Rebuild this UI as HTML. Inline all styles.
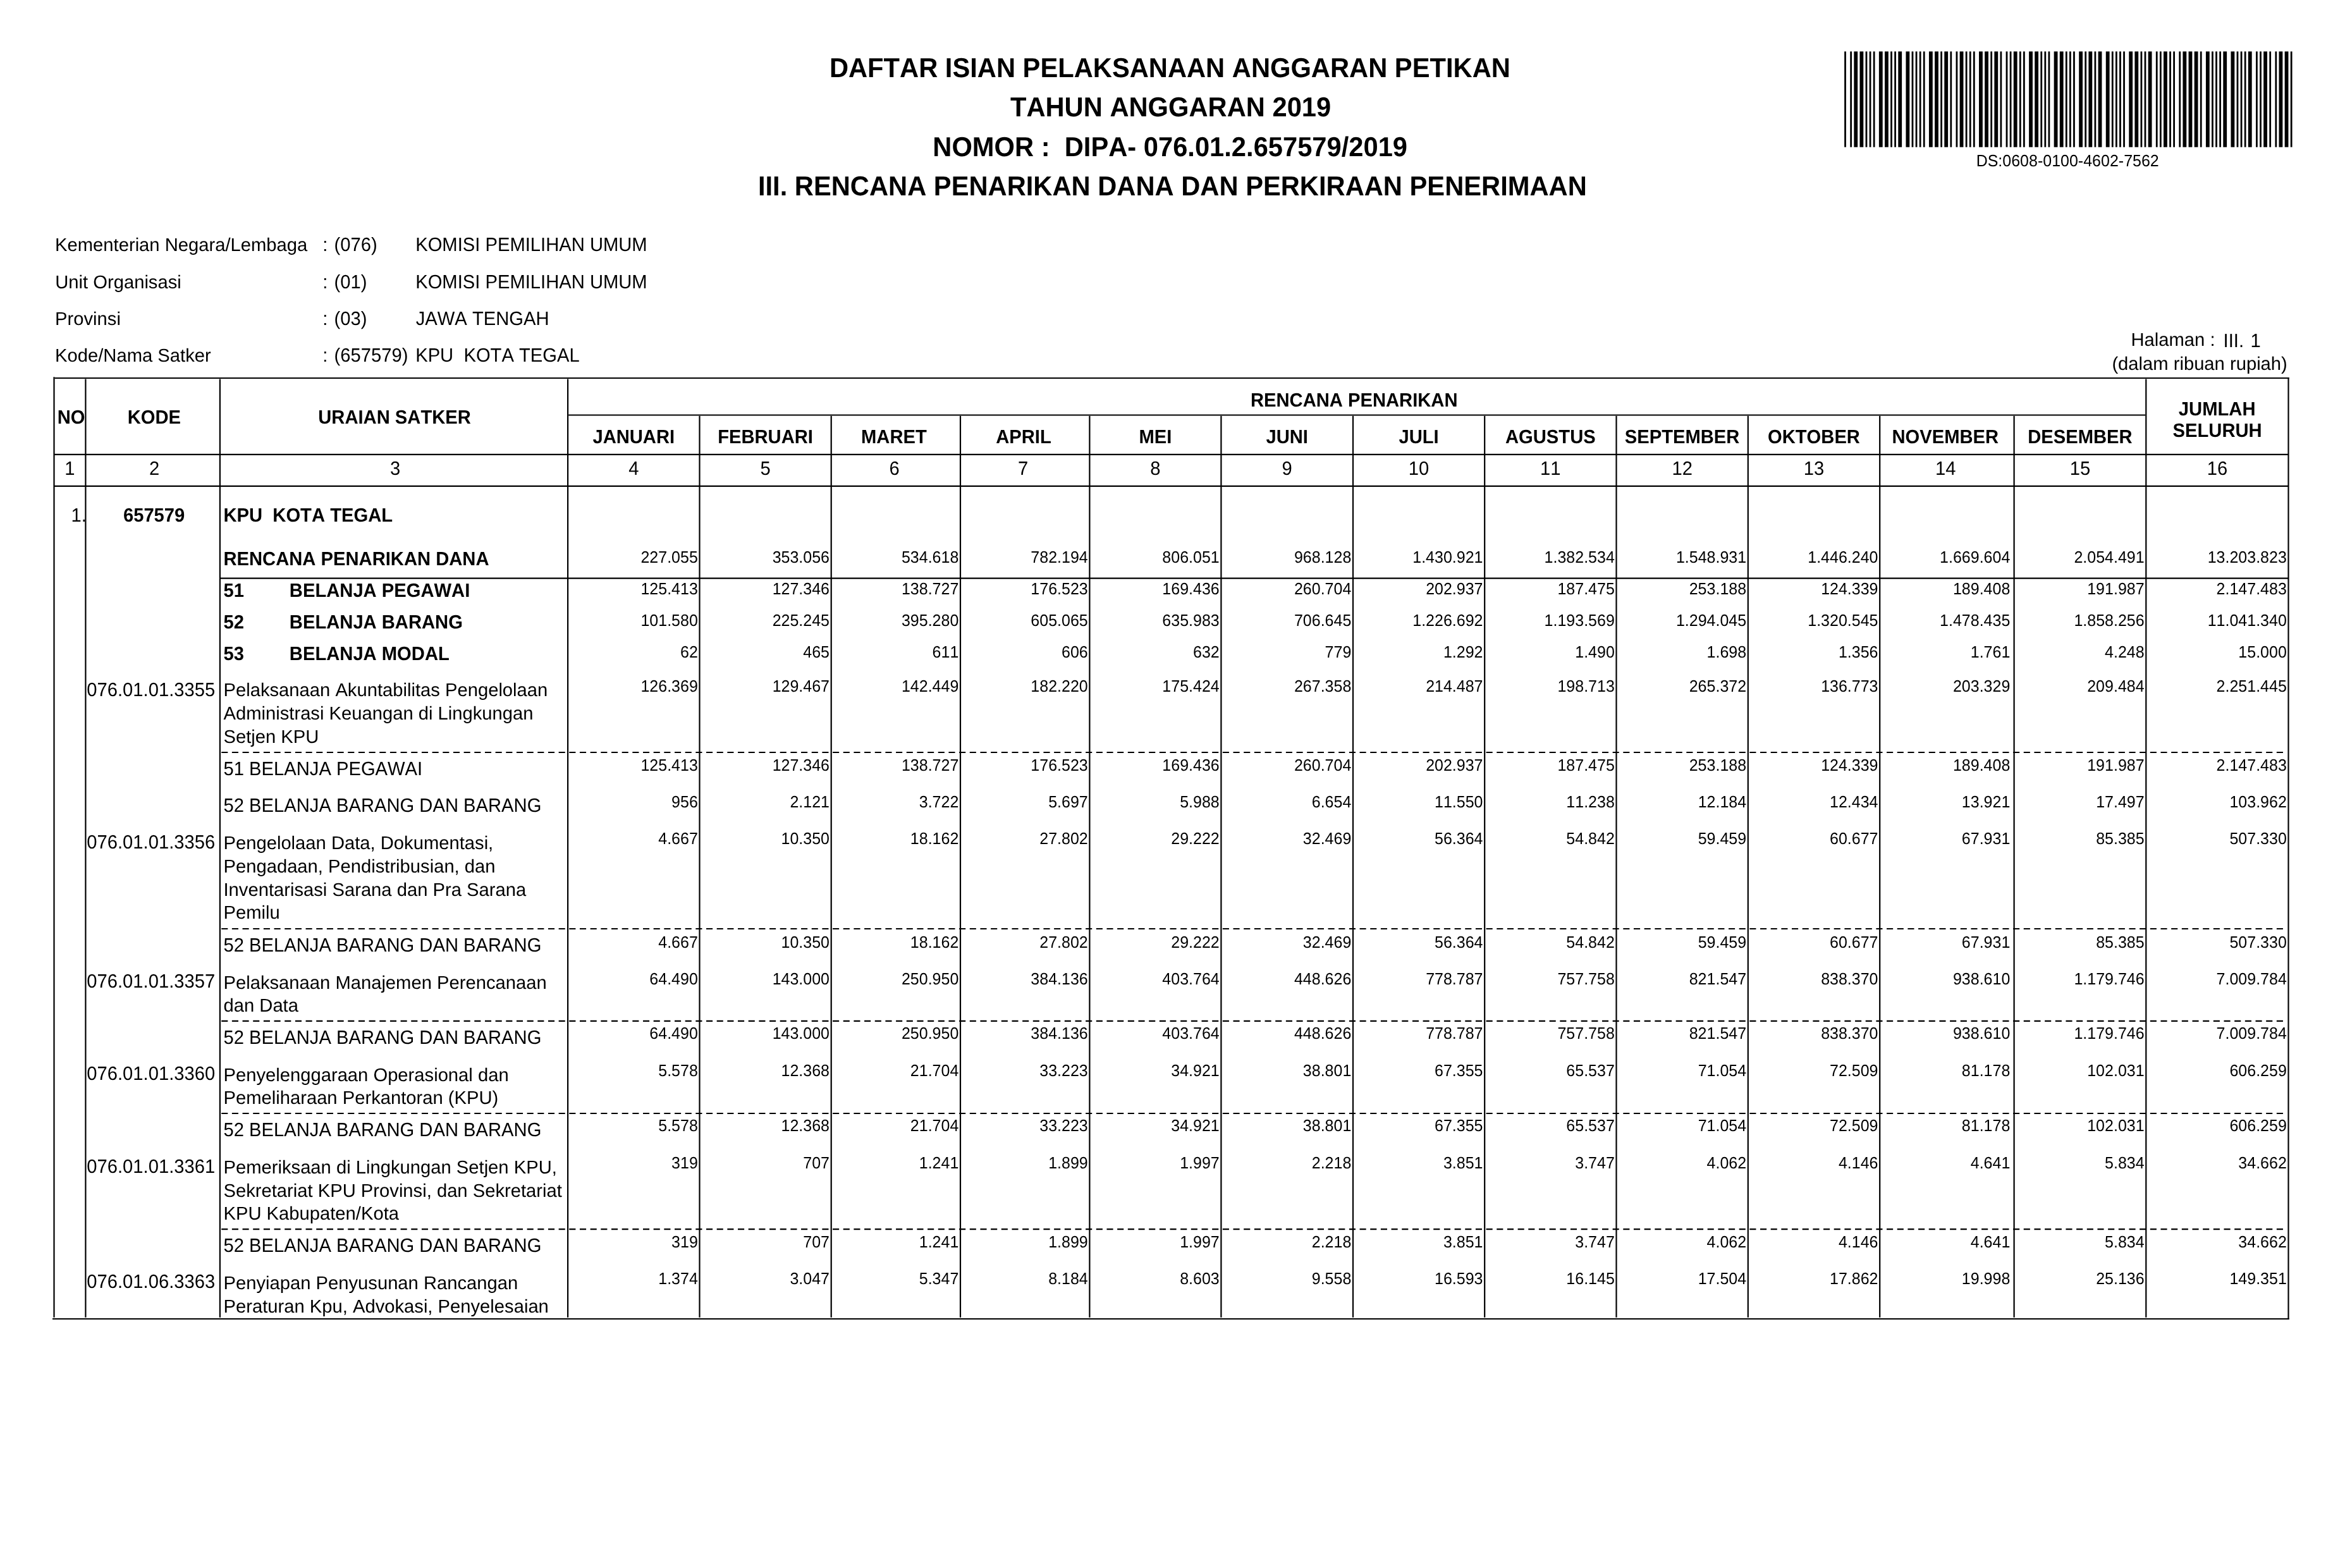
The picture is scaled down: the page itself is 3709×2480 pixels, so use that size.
<!DOCTYPE html>
<html><head><meta charset="utf-8"><title>DIPA Petikan</title>
<style>
html,body{margin:0;padding:0;background:#fff;width:3709px;height:2480px}
.t{position:absolute;white-space:pre;font-family:"Liberation Sans",sans-serif;font-kerning:none;text-rendering:geometricPrecision;color:#000}
.b{font-weight:700}
svg{position:absolute;left:0;top:0}
#pg{position:absolute;left:0;top:0;width:3709px;height:2480px;will-change:transform;background:#fff}
</style></head><body><div id="pg">
<svg width="3709" height="2480" viewBox="0 0 3709 2480" stroke="#000" fill="none">
<rect x="2917.12" y="81.4" width="2.79" height="151.3" fill="#000" stroke="none"/>
<rect x="2926.25" y="81.4" width="2.79" height="151.3" fill="#000" stroke="none"/>
<rect x="2932.33" y="81.4" width="5.83" height="151.3" fill="#000" stroke="none"/>
<rect x="2941.46" y="81.4" width="5.83" height="151.3" fill="#000" stroke="none"/>
<rect x="2950.58" y="81.4" width="2.79" height="151.3" fill="#000" stroke="none"/>
<rect x="2956.66" y="81.4" width="2.79" height="151.3" fill="#000" stroke="none"/>
<rect x="2962.75" y="81.4" width="2.79" height="151.3" fill="#000" stroke="none"/>
<rect x="2971.87" y="81.4" width="5.83" height="151.3" fill="#000" stroke="none"/>
<rect x="2981.00" y="81.4" width="5.83" height="151.3" fill="#000" stroke="none"/>
<rect x="2990.12" y="81.4" width="2.79" height="151.3" fill="#000" stroke="none"/>
<rect x="2996.20" y="81.4" width="2.79" height="151.3" fill="#000" stroke="none"/>
<rect x="3002.29" y="81.4" width="5.83" height="151.3" fill="#000" stroke="none"/>
<rect x="3014.45" y="81.4" width="5.83" height="151.3" fill="#000" stroke="none"/>
<rect x="3023.58" y="81.4" width="2.79" height="151.3" fill="#000" stroke="none"/>
<rect x="3029.66" y="81.4" width="2.79" height="151.3" fill="#000" stroke="none"/>
<rect x="3035.74" y="81.4" width="2.79" height="151.3" fill="#000" stroke="none"/>
<rect x="3041.83" y="81.4" width="2.79" height="151.3" fill="#000" stroke="none"/>
<rect x="3050.95" y="81.4" width="5.83" height="151.3" fill="#000" stroke="none"/>
<rect x="3060.08" y="81.4" width="5.83" height="151.3" fill="#000" stroke="none"/>
<rect x="3069.20" y="81.4" width="2.79" height="151.3" fill="#000" stroke="none"/>
<rect x="3075.28" y="81.4" width="5.83" height="151.3" fill="#000" stroke="none"/>
<rect x="3084.41" y="81.4" width="2.79" height="151.3" fill="#000" stroke="none"/>
<rect x="3093.53" y="81.4" width="2.79" height="151.3" fill="#000" stroke="none"/>
<rect x="3099.61" y="81.4" width="5.83" height="151.3" fill="#000" stroke="none"/>
<rect x="3108.74" y="81.4" width="2.79" height="151.3" fill="#000" stroke="none"/>
<rect x="3114.82" y="81.4" width="2.79" height="151.3" fill="#000" stroke="none"/>
<rect x="3120.91" y="81.4" width="2.79" height="151.3" fill="#000" stroke="none"/>
<rect x="3130.03" y="81.4" width="5.83" height="151.3" fill="#000" stroke="none"/>
<rect x="3139.15" y="81.4" width="5.83" height="151.3" fill="#000" stroke="none"/>
<rect x="3148.28" y="81.4" width="2.79" height="151.3" fill="#000" stroke="none"/>
<rect x="3154.36" y="81.4" width="5.83" height="151.3" fill="#000" stroke="none"/>
<rect x="3163.49" y="81.4" width="2.79" height="151.3" fill="#000" stroke="none"/>
<rect x="3172.61" y="81.4" width="2.79" height="151.3" fill="#000" stroke="none"/>
<rect x="3178.69" y="81.4" width="2.79" height="151.3" fill="#000" stroke="none"/>
<rect x="3184.78" y="81.4" width="5.83" height="151.3" fill="#000" stroke="none"/>
<rect x="3193.90" y="81.4" width="2.79" height="151.3" fill="#000" stroke="none"/>
<rect x="3199.98" y="81.4" width="2.79" height="151.3" fill="#000" stroke="none"/>
<rect x="3209.11" y="81.4" width="5.83" height="151.3" fill="#000" stroke="none"/>
<rect x="3218.23" y="81.4" width="5.83" height="151.3" fill="#000" stroke="none"/>
<rect x="3227.36" y="81.4" width="2.79" height="151.3" fill="#000" stroke="none"/>
<rect x="3233.44" y="81.4" width="2.79" height="151.3" fill="#000" stroke="none"/>
<rect x="3239.52" y="81.4" width="2.79" height="151.3" fill="#000" stroke="none"/>
<rect x="3248.65" y="81.4" width="5.83" height="151.3" fill="#000" stroke="none"/>
<rect x="3257.77" y="81.4" width="5.83" height="151.3" fill="#000" stroke="none"/>
<rect x="3266.90" y="81.4" width="2.79" height="151.3" fill="#000" stroke="none"/>
<rect x="3272.98" y="81.4" width="2.79" height="151.3" fill="#000" stroke="none"/>
<rect x="3279.06" y="81.4" width="2.79" height="151.3" fill="#000" stroke="none"/>
<rect x="3288.19" y="81.4" width="5.83" height="151.3" fill="#000" stroke="none"/>
<rect x="3297.31" y="81.4" width="2.79" height="151.3" fill="#000" stroke="none"/>
<rect x="3303.40" y="81.4" width="5.83" height="151.3" fill="#000" stroke="none"/>
<rect x="3312.52" y="81.4" width="2.79" height="151.3" fill="#000" stroke="none"/>
<rect x="3318.60" y="81.4" width="5.83" height="151.3" fill="#000" stroke="none"/>
<rect x="3330.77" y="81.4" width="5.83" height="151.3" fill="#000" stroke="none"/>
<rect x="3339.89" y="81.4" width="2.79" height="151.3" fill="#000" stroke="none"/>
<rect x="3345.98" y="81.4" width="2.79" height="151.3" fill="#000" stroke="none"/>
<rect x="3352.06" y="81.4" width="2.79" height="151.3" fill="#000" stroke="none"/>
<rect x="3358.14" y="81.4" width="2.79" height="151.3" fill="#000" stroke="none"/>
<rect x="3367.27" y="81.4" width="5.83" height="151.3" fill="#000" stroke="none"/>
<rect x="3376.39" y="81.4" width="5.83" height="151.3" fill="#000" stroke="none"/>
<rect x="3385.52" y="81.4" width="2.79" height="151.3" fill="#000" stroke="none"/>
<rect x="3391.60" y="81.4" width="2.79" height="151.3" fill="#000" stroke="none"/>
<rect x="3397.68" y="81.4" width="5.83" height="151.3" fill="#000" stroke="none"/>
<rect x="3409.85" y="81.4" width="2.79" height="151.3" fill="#000" stroke="none"/>
<rect x="3415.93" y="81.4" width="2.79" height="151.3" fill="#000" stroke="none"/>
<rect x="3422.01" y="81.4" width="5.83" height="151.3" fill="#000" stroke="none"/>
<rect x="3431.14" y="81.4" width="2.79" height="151.3" fill="#000" stroke="none"/>
<rect x="3437.22" y="81.4" width="2.79" height="151.3" fill="#000" stroke="none"/>
<rect x="3446.35" y="81.4" width="2.79" height="151.3" fill="#000" stroke="none"/>
<rect x="3452.43" y="81.4" width="5.83" height="151.3" fill="#000" stroke="none"/>
<rect x="3461.55" y="81.4" width="5.83" height="151.3" fill="#000" stroke="none"/>
<rect x="3470.68" y="81.4" width="5.83" height="151.3" fill="#000" stroke="none"/>
<rect x="3479.80" y="81.4" width="2.79" height="151.3" fill="#000" stroke="none"/>
<rect x="3488.93" y="81.4" width="5.83" height="151.3" fill="#000" stroke="none"/>
<rect x="3498.05" y="81.4" width="2.79" height="151.3" fill="#000" stroke="none"/>
<rect x="3504.13" y="81.4" width="2.79" height="151.3" fill="#000" stroke="none"/>
<rect x="3510.22" y="81.4" width="2.79" height="151.3" fill="#000" stroke="none"/>
<rect x="3516.30" y="81.4" width="5.83" height="151.3" fill="#000" stroke="none"/>
<rect x="3528.47" y="81.4" width="5.83" height="151.3" fill="#000" stroke="none"/>
<rect x="3537.59" y="81.4" width="2.79" height="151.3" fill="#000" stroke="none"/>
<rect x="3543.67" y="81.4" width="2.79" height="151.3" fill="#000" stroke="none"/>
<rect x="3549.76" y="81.4" width="2.79" height="151.3" fill="#000" stroke="none"/>
<rect x="3555.84" y="81.4" width="5.83" height="151.3" fill="#000" stroke="none"/>
<rect x="3568.01" y="81.4" width="2.79" height="151.3" fill="#000" stroke="none"/>
<rect x="3574.09" y="81.4" width="2.79" height="151.3" fill="#000" stroke="none"/>
<rect x="3580.17" y="81.4" width="5.83" height="151.3" fill="#000" stroke="none"/>
<rect x="3589.30" y="81.4" width="2.79" height="151.3" fill="#000" stroke="none"/>
<rect x="3598.42" y="81.4" width="2.79" height="151.3" fill="#000" stroke="none"/>
<rect x="3604.50" y="81.4" width="5.83" height="151.3" fill="#000" stroke="none"/>
<rect x="3613.63" y="81.4" width="5.83" height="151.3" fill="#000" stroke="none"/>
<rect x="3622.75" y="81.4" width="2.79" height="151.3" fill="#000" stroke="none"/>
<line x1="86.5" y1="598.0" x2="3620.6" y2="598.0" stroke-width="2.2"/>
<line x1="899.2" y1="656.5" x2="3393.2000000000003" y2="656.5" stroke-width="2.2"/>
<line x1="85.5" y1="718.9" x2="3619.5" y2="718.9" stroke-width="2.2"/>
<line x1="85.5" y1="768.8" x2="3619.5" y2="768.8" stroke-width="2.2"/>
<line x1="349.0" y1="914.6" x2="3619.5" y2="914.6" stroke-width="2.2"/>
<line x1="350.2" y1="1190.0" x2="3611" y2="1190.0" stroke-width="2.2" stroke-dasharray="10.1 6.57"/>
<line x1="350.2" y1="1469.0" x2="3611" y2="1469.0" stroke-width="2.2" stroke-dasharray="10.1 6.57"/>
<line x1="350.2" y1="1614.8" x2="3611" y2="1614.8" stroke-width="2.2" stroke-dasharray="10.1 6.57"/>
<line x1="350.2" y1="1761.0" x2="3611" y2="1761.0" stroke-width="2.2" stroke-dasharray="10.1 6.57"/>
<line x1="350.2" y1="1944.1" x2="3611" y2="1944.1" stroke-width="2.2" stroke-dasharray="10.1 6.57"/>
<line x1="83" y1="2086.0" x2="3620.6" y2="2086.0" stroke-width="2.2"/>
<line x1="85.5" y1="596.2" x2="85.5" y2="2083.8" stroke-width="2.2"/>
<line x1="135.4" y1="599.5" x2="135.4" y2="2083.8" stroke-width="2.2"/>
<line x1="347.9" y1="599.5" x2="347.9" y2="2083.8" stroke-width="2.2"/>
<line x1="898.1" y1="599.5" x2="898.1" y2="2083.8" stroke-width="2.2"/>
<line x1="3394.3" y1="599.5" x2="3394.3" y2="2083.8" stroke-width="2.2"/>
<line x1="1106.5" y1="657.7" x2="1106.5" y2="2083.8" stroke-width="2.2"/>
<line x1="1314.7" y1="657.7" x2="1314.7" y2="2083.8" stroke-width="2.2"/>
<line x1="1519.0" y1="657.7" x2="1519.0" y2="2083.8" stroke-width="2.2"/>
<line x1="1723.4" y1="657.7" x2="1723.4" y2="2083.8" stroke-width="2.2"/>
<line x1="1931.4" y1="657.7" x2="1931.4" y2="2083.8" stroke-width="2.2"/>
<line x1="2140.0" y1="657.7" x2="2140.0" y2="2083.8" stroke-width="2.2"/>
<line x1="2348.2" y1="657.7" x2="2348.2" y2="2083.8" stroke-width="2.2"/>
<line x1="2556.5" y1="657.7" x2="2556.5" y2="2083.8" stroke-width="2.2"/>
<line x1="2764.8" y1="657.7" x2="2764.8" y2="2083.8" stroke-width="2.2"/>
<line x1="2973.2" y1="657.7" x2="2973.2" y2="2083.8" stroke-width="2.2"/>
<line x1="3185.6" y1="657.7" x2="3185.6" y2="2083.8" stroke-width="2.2"/>
<line x1="3619.5" y1="597" x2="3619.5" y2="2087.0" stroke-width="2.2"/>
</svg>
<div class="t b" style="left:1311.91px;top:87.19px;font-size:41.7px;line-height:41.7px;transform:scaleY(1.04);transform-origin:0 35.31px">DAFTAR ISIAN PELAKSANAAN ANGGARAN PETIKAN</div>
<div class="t b" style="left:1597.93px;top:148.99px;font-size:41.7px;line-height:41.7px;transform:scaleY(1.04);transform-origin:0 35.31px">TAHUN ANGGARAN 2019</div>
<div class="t b" style="left:1475.31px;top:212.19px;font-size:41.7px;line-height:41.7px;transform:scaleY(1.04);transform-origin:0 35.31px">NOMOR :  DIPA- 076.01.2.657579/2019</div>
<div class="t b" style="left:1198.91px;top:274.19px;font-size:41.7px;line-height:41.7px;transform:scaleY(1.04);transform-origin:0 35.31px">III. RENCANA PENARIKAN DANA DAN PERKIRAAN PENERIMAAN</div>
<div class="t" style="left:3125.65px;top:243.43px;font-size:25px;line-height:25px;transform:scaleY(1.04);transform-origin:0 21.17px">DS:0608-0100-4602-7562</div>
<div class="t" style="left:87.10px;top:374.48px;font-size:29.2px;line-height:29.2px">Kementerian Negara/Lembaga</div>
<div class="t" style="left:510.23px;top:374.48px;font-size:29.2px;line-height:29.2px;transform:scaleY(1.04);transform-origin:0 24.72px">:</div>
<div class="t" style="left:528.59px;top:374.48px;font-size:29.2px;line-height:29.2px;transform:scaleY(1.04);transform-origin:0 24.72px">(076)</div>
<div class="t" style="left:657.20px;top:374.48px;font-size:29.2px;line-height:29.2px;transform:scaleY(1.04);transform-origin:0 24.72px">KOMISI PEMILIHAN UMUM</div>
<div class="t" style="left:87.25px;top:432.58px;font-size:29.2px;line-height:29.2px">Unit Organisasi</div>
<div class="t" style="left:510.23px;top:432.58px;font-size:29.2px;line-height:29.2px;transform:scaleY(1.04);transform-origin:0 24.72px">:</div>
<div class="t" style="left:528.59px;top:432.58px;font-size:29.2px;line-height:29.2px;transform:scaleY(1.04);transform-origin:0 24.72px">(01)</div>
<div class="t" style="left:657.20px;top:432.58px;font-size:29.2px;line-height:29.2px;transform:scaleY(1.04);transform-origin:0 24.72px">KOMISI PEMILIHAN UMUM</div>
<div class="t" style="left:87.10px;top:490.68px;font-size:29.2px;line-height:29.2px">Provinsi</div>
<div class="t" style="left:510.23px;top:490.68px;font-size:29.2px;line-height:29.2px;transform:scaleY(1.04);transform-origin:0 24.72px">:</div>
<div class="t" style="left:528.59px;top:490.68px;font-size:29.2px;line-height:29.2px;transform:scaleY(1.04);transform-origin:0 24.72px">(03)</div>
<div class="t" style="left:657.74px;top:490.68px;font-size:29.2px;line-height:29.2px;transform:scaleY(1.04);transform-origin:0 24.72px">JAWA TENGAH</div>
<div class="t" style="left:87.10px;top:549.08px;font-size:29.2px;line-height:29.2px">Kode/Nama Satker</div>
<div class="t" style="left:510.23px;top:549.08px;font-size:29.2px;line-height:29.2px;transform:scaleY(1.04);transform-origin:0 24.72px">:</div>
<div class="t" style="left:528.59px;top:549.08px;font-size:29.2px;line-height:29.2px;transform:scaleY(1.04);transform-origin:0 24.72px">(657579)</div>
<div class="t" style="left:657.20px;top:549.08px;font-size:29.2px;line-height:29.2px;transform:scaleY(1.04);transform-origin:0 24.72px">KPU  KOTA TEGAL</div>
<div class="t" style="left:3370.50px;top:524.08px;font-size:29.2px;line-height:29.2px">Halaman :</div>
<div class="t" style="left:3516.61px;top:525.98px;font-size:29.2px;line-height:29.2px;transform:scaleY(1.04);transform-origin:0 24.72px">III.</div>
<div class="t" style="left:3559.49px;top:525.98px;font-size:29.2px;line-height:29.2px;transform:scaleY(1.04);transform-origin:0 24.72px">1</div>
<div class="t" style="left:3340.39px;top:562.08px;font-size:29.2px;line-height:29.2px">(dalam ribuan rupiah)</div>
<div class="t b" style="left:90.75px;top:647.08px;font-size:29.2px;line-height:29.2px;transform:scaleY(1.04);transform-origin:0 24.72px">NO</div>
<div class="t b" style="left:201.65px;top:647.08px;font-size:29.2px;line-height:29.2px;transform:scaleY(1.04);transform-origin:0 24.72px">KODE</div>
<div class="t b" style="left:503.25px;top:647.08px;font-size:29.2px;line-height:29.2px;transform:scaleY(1.04);transform-origin:0 24.72px">URAIAN SATKER</div>
<div class="t b" style="left:1977.95px;top:619.68px;font-size:29.2px;line-height:29.2px;transform:scaleY(1.04);transform-origin:0 24.72px">RENCANA PENARIKAN</div>
<div class="t b" style="left:937.41px;top:677.68px;font-size:29.2px;line-height:29.2px;transform:scaleY(1.04);transform-origin:0 24.72px">JANUARI</div>
<div class="t b" style="left:1135.17px;top:677.68px;font-size:29.2px;line-height:29.2px;transform:scaleY(1.04);transform-origin:0 24.72px">FEBRUARI</div>
<div class="t b" style="left:1362.04px;top:677.68px;font-size:29.2px;line-height:29.2px;transform:scaleY(1.04);transform-origin:0 24.72px">MARET</div>
<div class="t b" style="left:1575.20px;top:677.68px;font-size:29.2px;line-height:29.2px;transform:scaleY(1.04);transform-origin:0 24.72px">APRIL</div>
<div class="t b" style="left:1801.44px;top:677.68px;font-size:29.2px;line-height:29.2px;transform:scaleY(1.04);transform-origin:0 24.72px">MEI</div>
<div class="t b" style="left:2002.44px;top:677.68px;font-size:29.2px;line-height:29.2px;transform:scaleY(1.04);transform-origin:0 24.72px">JUNI</div>
<div class="t b" style="left:2212.46px;top:677.68px;font-size:29.2px;line-height:29.2px;transform:scaleY(1.04);transform-origin:0 24.72px">JULI</div>
<div class="t b" style="left:2380.97px;top:677.68px;font-size:29.2px;line-height:29.2px;transform:scaleY(1.04);transform-origin:0 24.72px">AGUSTUS</div>
<div class="t b" style="left:2569.79px;top:677.68px;font-size:29.2px;line-height:29.2px;transform:scaleY(1.04);transform-origin:0 24.72px">SEPTEMBER</div>
<div class="t b" style="left:2796.00px;top:677.68px;font-size:29.2px;line-height:29.2px;transform:scaleY(1.04);transform-origin:0 24.72px">OKTOBER</div>
<div class="t b" style="left:2992.44px;top:677.68px;font-size:29.2px;line-height:29.2px;transform:scaleY(1.04);transform-origin:0 24.72px">NOVEMBER</div>
<div class="t b" style="left:3207.20px;top:677.68px;font-size:29.2px;line-height:29.2px;transform:scaleY(1.04);transform-origin:0 24.72px">DESEMBER</div>
<div class="t b" style="left:3445.86px;top:633.98px;font-size:29.2px;line-height:29.2px;transform:scaleY(1.04);transform-origin:0 24.72px">JUMLAH</div>
<div class="t b" style="left:3436.56px;top:668.38px;font-size:29.2px;line-height:29.2px;transform:scaleY(1.04);transform-origin:0 24.72px">SELURUH</div>
<div class="t" style="left:102.33px;top:727.58px;font-size:29.2px;line-height:29.2px;transform:scaleY(1.04);transform-origin:0 24.72px">1</div>
<div class="t" style="left:236.03px;top:727.58px;font-size:29.2px;line-height:29.2px;transform:scaleY(1.04);transform-origin:0 24.72px">2</div>
<div class="t" style="left:617.08px;top:727.58px;font-size:29.2px;line-height:29.2px;transform:scaleY(1.04);transform-origin:0 24.72px">3</div>
<div class="t" style="left:994.18px;top:727.58px;font-size:29.2px;line-height:29.2px;transform:scaleY(1.04);transform-origin:0 24.72px">4</div>
<div class="t" style="left:1202.48px;top:727.58px;font-size:29.2px;line-height:29.2px;transform:scaleY(1.04);transform-origin:0 24.72px">5</div>
<div class="t" style="left:1406.53px;top:727.58px;font-size:29.2px;line-height:29.2px;transform:scaleY(1.04);transform-origin:0 24.72px">6</div>
<div class="t" style="left:1610.08px;top:727.58px;font-size:29.2px;line-height:29.2px;transform:scaleY(1.04);transform-origin:0 24.72px">7</div>
<div class="t" style="left:1819.28px;top:727.58px;font-size:29.2px;line-height:29.2px;transform:scaleY(1.04);transform-origin:0 24.72px">8</div>
<div class="t" style="left:2027.58px;top:727.58px;font-size:29.2px;line-height:29.2px;transform:scaleY(1.04);transform-origin:0 24.72px">9</div>
<div class="t" style="left:2227.86px;top:727.58px;font-size:29.2px;line-height:29.2px;transform:scaleY(1.04);transform-origin:0 24.72px">10</div>
<div class="t" style="left:2436.11px;top:727.58px;font-size:29.2px;line-height:29.2px;transform:scaleY(1.04);transform-origin:0 24.72px">11</div>
<div class="t" style="left:2644.41px;top:727.58px;font-size:29.2px;line-height:29.2px;transform:scaleY(1.04);transform-origin:0 24.72px">12</div>
<div class="t" style="left:2852.76px;top:727.58px;font-size:29.2px;line-height:29.2px;transform:scaleY(1.04);transform-origin:0 24.72px">13</div>
<div class="t" style="left:3060.96px;top:727.58px;font-size:29.2px;line-height:29.2px;transform:scaleY(1.04);transform-origin:0 24.72px">14</div>
<div class="t" style="left:3273.71px;top:727.58px;font-size:29.2px;line-height:29.2px;transform:scaleY(1.04);transform-origin:0 24.72px">15</div>
<div class="t" style="left:3490.66px;top:727.58px;font-size:29.2px;line-height:29.2px;transform:scaleY(1.04);transform-origin:0 24.72px">16</div>
<div class="t" style="left:112.50px;top:801.88px;font-size:29.2px;line-height:29.2px;transform:scaleY(1.04);transform-origin:0 24.72px">1.</div>
<div class="t b" style="left:194.93px;top:801.88px;font-size:29.2px;line-height:29.2px;transform:scaleY(1.04);transform-origin:0 24.72px">657579</div>
<div class="t b" style="left:353.50px;top:801.88px;font-size:29.2px;line-height:29.2px;transform:scaleY(1.04);transform-origin:0 24.72px">KPU  KOTA TEGAL</div>
<div class="t b" style="left:353.50px;top:870.98px;font-size:29.2px;line-height:29.2px;transform:scaleY(1.04);transform-origin:0 24.72px">RENCANA PENARIKAN DANA</div>
<div class="t" style="left:1013.43px;top:869.93px;font-size:25px;line-height:25px;transform:scaleY(1.04);transform-origin:0 21.17px">227.055</div>
<div class="t" style="left:1221.63px;top:869.93px;font-size:25px;line-height:25px;transform:scaleY(1.04);transform-origin:0 21.17px">353.056</div>
<div class="t" style="left:1425.93px;top:869.93px;font-size:25px;line-height:25px;transform:scaleY(1.04);transform-origin:0 21.17px">534.618</div>
<div class="t" style="left:1630.33px;top:869.93px;font-size:25px;line-height:25px;transform:scaleY(1.04);transform-origin:0 21.17px">782.194</div>
<div class="t" style="left:1838.33px;top:869.93px;font-size:25px;line-height:25px;transform:scaleY(1.04);transform-origin:0 21.17px">806.051</div>
<div class="t" style="left:2046.93px;top:869.93px;font-size:25px;line-height:25px;transform:scaleY(1.04);transform-origin:0 21.17px">968.128</div>
<div class="t" style="left:2234.28px;top:869.93px;font-size:25px;line-height:25px;transform:scaleY(1.04);transform-origin:0 21.17px">1.430.921</div>
<div class="t" style="left:2442.58px;top:869.93px;font-size:25px;line-height:25px;transform:scaleY(1.04);transform-origin:0 21.17px">1.382.534</div>
<div class="t" style="left:2650.88px;top:869.93px;font-size:25px;line-height:25px;transform:scaleY(1.04);transform-origin:0 21.17px">1.548.931</div>
<div class="t" style="left:2859.28px;top:869.93px;font-size:25px;line-height:25px;transform:scaleY(1.04);transform-origin:0 21.17px">1.446.240</div>
<div class="t" style="left:3068.08px;top:869.93px;font-size:25px;line-height:25px;transform:scaleY(1.04);transform-origin:0 21.17px">1.669.604</div>
<div class="t" style="left:3280.38px;top:869.93px;font-size:25px;line-height:25px;transform:scaleY(1.04);transform-origin:0 21.17px">2.054.491</div>
<div class="t" style="left:3491.68px;top:869.93px;font-size:25px;line-height:25px;transform:scaleY(1.04);transform-origin:0 21.17px">13.203.823</div>
<div class="t b" style="left:353.50px;top:920.78px;font-size:29.2px;line-height:29.2px;transform:scaleY(1.04);transform-origin:0 24.72px">51</div>
<div class="t b" style="left:457.85px;top:920.78px;font-size:29.2px;line-height:29.2px;transform:scaleY(1.04);transform-origin:0 24.72px">BELANJA PEGAWAI</div>
<div class="t" style="left:1013.43px;top:919.73px;font-size:25px;line-height:25px;transform:scaleY(1.04);transform-origin:0 21.17px">125.413</div>
<div class="t" style="left:1221.63px;top:919.73px;font-size:25px;line-height:25px;transform:scaleY(1.04);transform-origin:0 21.17px">127.346</div>
<div class="t" style="left:1425.93px;top:919.73px;font-size:25px;line-height:25px;transform:scaleY(1.04);transform-origin:0 21.17px">138.727</div>
<div class="t" style="left:1630.33px;top:919.73px;font-size:25px;line-height:25px;transform:scaleY(1.04);transform-origin:0 21.17px">176.523</div>
<div class="t" style="left:1838.33px;top:919.73px;font-size:25px;line-height:25px;transform:scaleY(1.04);transform-origin:0 21.17px">169.436</div>
<div class="t" style="left:2046.93px;top:919.73px;font-size:25px;line-height:25px;transform:scaleY(1.04);transform-origin:0 21.17px">260.704</div>
<div class="t" style="left:2255.13px;top:919.73px;font-size:25px;line-height:25px;transform:scaleY(1.04);transform-origin:0 21.17px">202.937</div>
<div class="t" style="left:2463.43px;top:919.73px;font-size:25px;line-height:25px;transform:scaleY(1.04);transform-origin:0 21.17px">187.475</div>
<div class="t" style="left:2671.73px;top:919.73px;font-size:25px;line-height:25px;transform:scaleY(1.04);transform-origin:0 21.17px">253.188</div>
<div class="t" style="left:2880.13px;top:919.73px;font-size:25px;line-height:25px;transform:scaleY(1.04);transform-origin:0 21.17px">124.339</div>
<div class="t" style="left:3088.93px;top:919.73px;font-size:25px;line-height:25px;transform:scaleY(1.04);transform-origin:0 21.17px">189.408</div>
<div class="t" style="left:3301.23px;top:919.73px;font-size:25px;line-height:25px;transform:scaleY(1.04);transform-origin:0 21.17px">191.987</div>
<div class="t" style="left:3505.58px;top:919.73px;font-size:25px;line-height:25px;transform:scaleY(1.04);transform-origin:0 21.17px">2.147.483</div>
<div class="t b" style="left:353.50px;top:970.58px;font-size:29.2px;line-height:29.2px;transform:scaleY(1.04);transform-origin:0 24.72px">52</div>
<div class="t b" style="left:457.85px;top:970.58px;font-size:29.2px;line-height:29.2px;transform:scaleY(1.04);transform-origin:0 24.72px">BELANJA BARANG</div>
<div class="t" style="left:1013.43px;top:969.73px;font-size:25px;line-height:25px;transform:scaleY(1.04);transform-origin:0 21.17px">101.580</div>
<div class="t" style="left:1221.63px;top:969.73px;font-size:25px;line-height:25px;transform:scaleY(1.04);transform-origin:0 21.17px">225.245</div>
<div class="t" style="left:1425.93px;top:969.73px;font-size:25px;line-height:25px;transform:scaleY(1.04);transform-origin:0 21.17px">395.280</div>
<div class="t" style="left:1630.33px;top:969.73px;font-size:25px;line-height:25px;transform:scaleY(1.04);transform-origin:0 21.17px">605.065</div>
<div class="t" style="left:1838.33px;top:969.73px;font-size:25px;line-height:25px;transform:scaleY(1.04);transform-origin:0 21.17px">635.983</div>
<div class="t" style="left:2046.93px;top:969.73px;font-size:25px;line-height:25px;transform:scaleY(1.04);transform-origin:0 21.17px">706.645</div>
<div class="t" style="left:2234.28px;top:969.73px;font-size:25px;line-height:25px;transform:scaleY(1.04);transform-origin:0 21.17px">1.226.692</div>
<div class="t" style="left:2442.58px;top:969.73px;font-size:25px;line-height:25px;transform:scaleY(1.04);transform-origin:0 21.17px">1.193.569</div>
<div class="t" style="left:2650.88px;top:969.73px;font-size:25px;line-height:25px;transform:scaleY(1.04);transform-origin:0 21.17px">1.294.045</div>
<div class="t" style="left:2859.28px;top:969.73px;font-size:25px;line-height:25px;transform:scaleY(1.04);transform-origin:0 21.17px">1.320.545</div>
<div class="t" style="left:3068.08px;top:969.73px;font-size:25px;line-height:25px;transform:scaleY(1.04);transform-origin:0 21.17px">1.478.435</div>
<div class="t" style="left:3280.38px;top:969.73px;font-size:25px;line-height:25px;transform:scaleY(1.04);transform-origin:0 21.17px">1.858.256</div>
<div class="t" style="left:3491.68px;top:969.73px;font-size:25px;line-height:25px;transform:scaleY(1.04);transform-origin:0 21.17px">11.041.340</div>
<div class="t b" style="left:353.50px;top:1020.68px;font-size:29.2px;line-height:29.2px;transform:scaleY(1.04);transform-origin:0 24.72px">53</div>
<div class="t b" style="left:457.85px;top:1020.68px;font-size:29.2px;line-height:29.2px;transform:scaleY(1.04);transform-origin:0 24.72px">BELANJA MODAL</div>
<div class="t" style="left:1075.99px;top:1019.53px;font-size:25px;line-height:25px;transform:scaleY(1.04);transform-origin:0 21.17px">62</div>
<div class="t" style="left:1270.29px;top:1019.53px;font-size:25px;line-height:25px;transform:scaleY(1.04);transform-origin:0 21.17px">465</div>
<div class="t" style="left:1474.59px;top:1019.53px;font-size:25px;line-height:25px;transform:scaleY(1.04);transform-origin:0 21.17px">611</div>
<div class="t" style="left:1678.99px;top:1019.53px;font-size:25px;line-height:25px;transform:scaleY(1.04);transform-origin:0 21.17px">606</div>
<div class="t" style="left:1886.99px;top:1019.53px;font-size:25px;line-height:25px;transform:scaleY(1.04);transform-origin:0 21.17px">632</div>
<div class="t" style="left:2095.59px;top:1019.53px;font-size:25px;line-height:25px;transform:scaleY(1.04);transform-origin:0 21.17px">779</div>
<div class="t" style="left:2282.94px;top:1019.53px;font-size:25px;line-height:25px;transform:scaleY(1.04);transform-origin:0 21.17px">1.292</div>
<div class="t" style="left:2491.24px;top:1019.53px;font-size:25px;line-height:25px;transform:scaleY(1.04);transform-origin:0 21.17px">1.490</div>
<div class="t" style="left:2699.54px;top:1019.53px;font-size:25px;line-height:25px;transform:scaleY(1.04);transform-origin:0 21.17px">1.698</div>
<div class="t" style="left:2907.94px;top:1019.53px;font-size:25px;line-height:25px;transform:scaleY(1.04);transform-origin:0 21.17px">1.356</div>
<div class="t" style="left:3116.74px;top:1019.53px;font-size:25px;line-height:25px;transform:scaleY(1.04);transform-origin:0 21.17px">1.761</div>
<div class="t" style="left:3329.04px;top:1019.53px;font-size:25px;line-height:25px;transform:scaleY(1.04);transform-origin:0 21.17px">4.248</div>
<div class="t" style="left:3540.34px;top:1019.53px;font-size:25px;line-height:25px;transform:scaleY(1.04);transform-origin:0 21.17px">15.000</div>
<div class="t" style="left:137.30px;top:1077.78px;font-size:29.2px;line-height:29.2px;transform:scaleY(1.04);transform-origin:0 24.72px">076.01.01.3355</div>
<div class="t" style="left:353.50px;top:1078.08px;font-size:29.2px;line-height:29.2px">Pelaksanaan Akuntabilitas Pengelolaan</div>
<div class="t" style="left:353.50px;top:1114.83px;font-size:29.2px;line-height:29.2px">Administrasi Keuangan di Lingkungan</div>
<div class="t" style="left:353.50px;top:1151.58px;font-size:29.2px;line-height:29.2px">Setjen KPU</div>
<div class="t" style="left:1013.43px;top:1073.53px;font-size:25px;line-height:25px;transform:scaleY(1.04);transform-origin:0 21.17px">126.369</div>
<div class="t" style="left:1221.63px;top:1073.53px;font-size:25px;line-height:25px;transform:scaleY(1.04);transform-origin:0 21.17px">129.467</div>
<div class="t" style="left:1425.93px;top:1073.53px;font-size:25px;line-height:25px;transform:scaleY(1.04);transform-origin:0 21.17px">142.449</div>
<div class="t" style="left:1630.33px;top:1073.53px;font-size:25px;line-height:25px;transform:scaleY(1.04);transform-origin:0 21.17px">182.220</div>
<div class="t" style="left:1838.33px;top:1073.53px;font-size:25px;line-height:25px;transform:scaleY(1.04);transform-origin:0 21.17px">175.424</div>
<div class="t" style="left:2046.93px;top:1073.53px;font-size:25px;line-height:25px;transform:scaleY(1.04);transform-origin:0 21.17px">267.358</div>
<div class="t" style="left:2255.13px;top:1073.53px;font-size:25px;line-height:25px;transform:scaleY(1.04);transform-origin:0 21.17px">214.487</div>
<div class="t" style="left:2463.43px;top:1073.53px;font-size:25px;line-height:25px;transform:scaleY(1.04);transform-origin:0 21.17px">198.713</div>
<div class="t" style="left:2671.73px;top:1073.53px;font-size:25px;line-height:25px;transform:scaleY(1.04);transform-origin:0 21.17px">265.372</div>
<div class="t" style="left:2880.13px;top:1073.53px;font-size:25px;line-height:25px;transform:scaleY(1.04);transform-origin:0 21.17px">136.773</div>
<div class="t" style="left:3088.93px;top:1073.53px;font-size:25px;line-height:25px;transform:scaleY(1.04);transform-origin:0 21.17px">203.329</div>
<div class="t" style="left:3301.23px;top:1073.53px;font-size:25px;line-height:25px;transform:scaleY(1.04);transform-origin:0 21.17px">209.484</div>
<div class="t" style="left:3505.58px;top:1073.53px;font-size:25px;line-height:25px;transform:scaleY(1.04);transform-origin:0 21.17px">2.251.445</div>
<div class="t" style="left:353.50px;top:1202.98px;font-size:29.2px;line-height:29.2px;transform:scaleY(1.04);transform-origin:0 24.72px">51 BELANJA PEGAWAI</div>
<div class="t" style="left:1013.43px;top:1198.73px;font-size:25px;line-height:25px;transform:scaleY(1.04);transform-origin:0 21.17px">125.413</div>
<div class="t" style="left:1221.63px;top:1198.73px;font-size:25px;line-height:25px;transform:scaleY(1.04);transform-origin:0 21.17px">127.346</div>
<div class="t" style="left:1425.93px;top:1198.73px;font-size:25px;line-height:25px;transform:scaleY(1.04);transform-origin:0 21.17px">138.727</div>
<div class="t" style="left:1630.33px;top:1198.73px;font-size:25px;line-height:25px;transform:scaleY(1.04);transform-origin:0 21.17px">176.523</div>
<div class="t" style="left:1838.33px;top:1198.73px;font-size:25px;line-height:25px;transform:scaleY(1.04);transform-origin:0 21.17px">169.436</div>
<div class="t" style="left:2046.93px;top:1198.73px;font-size:25px;line-height:25px;transform:scaleY(1.04);transform-origin:0 21.17px">260.704</div>
<div class="t" style="left:2255.13px;top:1198.73px;font-size:25px;line-height:25px;transform:scaleY(1.04);transform-origin:0 21.17px">202.937</div>
<div class="t" style="left:2463.43px;top:1198.73px;font-size:25px;line-height:25px;transform:scaleY(1.04);transform-origin:0 21.17px">187.475</div>
<div class="t" style="left:2671.73px;top:1198.73px;font-size:25px;line-height:25px;transform:scaleY(1.04);transform-origin:0 21.17px">253.188</div>
<div class="t" style="left:2880.13px;top:1198.73px;font-size:25px;line-height:25px;transform:scaleY(1.04);transform-origin:0 21.17px">124.339</div>
<div class="t" style="left:3088.93px;top:1198.73px;font-size:25px;line-height:25px;transform:scaleY(1.04);transform-origin:0 21.17px">189.408</div>
<div class="t" style="left:3301.23px;top:1198.73px;font-size:25px;line-height:25px;transform:scaleY(1.04);transform-origin:0 21.17px">191.987</div>
<div class="t" style="left:3505.58px;top:1198.73px;font-size:25px;line-height:25px;transform:scaleY(1.04);transform-origin:0 21.17px">2.147.483</div>
<div class="t" style="left:353.50px;top:1261.18px;font-size:29.2px;line-height:29.2px;transform:scaleY(1.04);transform-origin:0 24.72px">52 BELANJA BARANG DAN BARANG</div>
<div class="t" style="left:1062.09px;top:1257.23px;font-size:25px;line-height:25px;transform:scaleY(1.04);transform-origin:0 21.17px">956</div>
<div class="t" style="left:1249.44px;top:1257.23px;font-size:25px;line-height:25px;transform:scaleY(1.04);transform-origin:0 21.17px">2.121</div>
<div class="t" style="left:1453.74px;top:1257.23px;font-size:25px;line-height:25px;transform:scaleY(1.04);transform-origin:0 21.17px">3.722</div>
<div class="t" style="left:1658.14px;top:1257.23px;font-size:25px;line-height:25px;transform:scaleY(1.04);transform-origin:0 21.17px">5.697</div>
<div class="t" style="left:1866.14px;top:1257.23px;font-size:25px;line-height:25px;transform:scaleY(1.04);transform-origin:0 21.17px">5.988</div>
<div class="t" style="left:2074.74px;top:1257.23px;font-size:25px;line-height:25px;transform:scaleY(1.04);transform-origin:0 21.17px">6.654</div>
<div class="t" style="left:2269.04px;top:1257.23px;font-size:25px;line-height:25px;transform:scaleY(1.04);transform-origin:0 21.17px">11.550</div>
<div class="t" style="left:2477.34px;top:1257.23px;font-size:25px;line-height:25px;transform:scaleY(1.04);transform-origin:0 21.17px">11.238</div>
<div class="t" style="left:2685.64px;top:1257.23px;font-size:25px;line-height:25px;transform:scaleY(1.04);transform-origin:0 21.17px">12.184</div>
<div class="t" style="left:2894.04px;top:1257.23px;font-size:25px;line-height:25px;transform:scaleY(1.04);transform-origin:0 21.17px">12.434</div>
<div class="t" style="left:3102.84px;top:1257.23px;font-size:25px;line-height:25px;transform:scaleY(1.04);transform-origin:0 21.17px">13.921</div>
<div class="t" style="left:3315.14px;top:1257.23px;font-size:25px;line-height:25px;transform:scaleY(1.04);transform-origin:0 21.17px">17.497</div>
<div class="t" style="left:3526.43px;top:1257.23px;font-size:25px;line-height:25px;transform:scaleY(1.04);transform-origin:0 21.17px">103.962</div>
<div class="t" style="left:137.30px;top:1318.68px;font-size:29.2px;line-height:29.2px;transform:scaleY(1.04);transform-origin:0 24.72px">076.01.01.3356</div>
<div class="t" style="left:353.50px;top:1320.08px;font-size:29.2px;line-height:29.2px">Pengelolaan Data, Dokumentasi,</div>
<div class="t" style="left:353.50px;top:1356.83px;font-size:29.2px;line-height:29.2px">Pengadaan, Pendistribusian, dan</div>
<div class="t" style="left:353.50px;top:1393.58px;font-size:29.2px;line-height:29.2px">Inventarisasi Sarana dan Pra Sarana</div>
<div class="t" style="left:353.50px;top:1430.33px;font-size:29.2px;line-height:29.2px">Pemilu</div>
<div class="t" style="left:1041.24px;top:1315.43px;font-size:25px;line-height:25px;transform:scaleY(1.04);transform-origin:0 21.17px">4.667</div>
<div class="t" style="left:1235.54px;top:1315.43px;font-size:25px;line-height:25px;transform:scaleY(1.04);transform-origin:0 21.17px">10.350</div>
<div class="t" style="left:1439.84px;top:1315.43px;font-size:25px;line-height:25px;transform:scaleY(1.04);transform-origin:0 21.17px">18.162</div>
<div class="t" style="left:1644.24px;top:1315.43px;font-size:25px;line-height:25px;transform:scaleY(1.04);transform-origin:0 21.17px">27.802</div>
<div class="t" style="left:1852.24px;top:1315.43px;font-size:25px;line-height:25px;transform:scaleY(1.04);transform-origin:0 21.17px">29.222</div>
<div class="t" style="left:2060.84px;top:1315.43px;font-size:25px;line-height:25px;transform:scaleY(1.04);transform-origin:0 21.17px">32.469</div>
<div class="t" style="left:2269.04px;top:1315.43px;font-size:25px;line-height:25px;transform:scaleY(1.04);transform-origin:0 21.17px">56.364</div>
<div class="t" style="left:2477.34px;top:1315.43px;font-size:25px;line-height:25px;transform:scaleY(1.04);transform-origin:0 21.17px">54.842</div>
<div class="t" style="left:2685.64px;top:1315.43px;font-size:25px;line-height:25px;transform:scaleY(1.04);transform-origin:0 21.17px">59.459</div>
<div class="t" style="left:2894.04px;top:1315.43px;font-size:25px;line-height:25px;transform:scaleY(1.04);transform-origin:0 21.17px">60.677</div>
<div class="t" style="left:3102.84px;top:1315.43px;font-size:25px;line-height:25px;transform:scaleY(1.04);transform-origin:0 21.17px">67.931</div>
<div class="t" style="left:3315.14px;top:1315.43px;font-size:25px;line-height:25px;transform:scaleY(1.04);transform-origin:0 21.17px">85.385</div>
<div class="t" style="left:3526.43px;top:1315.43px;font-size:25px;line-height:25px;transform:scaleY(1.04);transform-origin:0 21.17px">507.330</div>
<div class="t" style="left:353.50px;top:1482.08px;font-size:29.2px;line-height:29.2px;transform:scaleY(1.04);transform-origin:0 24.72px">52 BELANJA BARANG DAN BARANG</div>
<div class="t" style="left:1041.24px;top:1478.63px;font-size:25px;line-height:25px;transform:scaleY(1.04);transform-origin:0 21.17px">4.667</div>
<div class="t" style="left:1235.54px;top:1478.63px;font-size:25px;line-height:25px;transform:scaleY(1.04);transform-origin:0 21.17px">10.350</div>
<div class="t" style="left:1439.84px;top:1478.63px;font-size:25px;line-height:25px;transform:scaleY(1.04);transform-origin:0 21.17px">18.162</div>
<div class="t" style="left:1644.24px;top:1478.63px;font-size:25px;line-height:25px;transform:scaleY(1.04);transform-origin:0 21.17px">27.802</div>
<div class="t" style="left:1852.24px;top:1478.63px;font-size:25px;line-height:25px;transform:scaleY(1.04);transform-origin:0 21.17px">29.222</div>
<div class="t" style="left:2060.84px;top:1478.63px;font-size:25px;line-height:25px;transform:scaleY(1.04);transform-origin:0 21.17px">32.469</div>
<div class="t" style="left:2269.04px;top:1478.63px;font-size:25px;line-height:25px;transform:scaleY(1.04);transform-origin:0 21.17px">56.364</div>
<div class="t" style="left:2477.34px;top:1478.63px;font-size:25px;line-height:25px;transform:scaleY(1.04);transform-origin:0 21.17px">54.842</div>
<div class="t" style="left:2685.64px;top:1478.63px;font-size:25px;line-height:25px;transform:scaleY(1.04);transform-origin:0 21.17px">59.459</div>
<div class="t" style="left:2894.04px;top:1478.63px;font-size:25px;line-height:25px;transform:scaleY(1.04);transform-origin:0 21.17px">60.677</div>
<div class="t" style="left:3102.84px;top:1478.63px;font-size:25px;line-height:25px;transform:scaleY(1.04);transform-origin:0 21.17px">67.931</div>
<div class="t" style="left:3315.14px;top:1478.63px;font-size:25px;line-height:25px;transform:scaleY(1.04);transform-origin:0 21.17px">85.385</div>
<div class="t" style="left:3526.43px;top:1478.63px;font-size:25px;line-height:25px;transform:scaleY(1.04);transform-origin:0 21.17px">507.330</div>
<div class="t" style="left:137.30px;top:1539.48px;font-size:29.2px;line-height:29.2px;transform:scaleY(1.04);transform-origin:0 24.72px">076.01.01.3357</div>
<div class="t" style="left:353.50px;top:1540.68px;font-size:29.2px;line-height:29.2px">Pelaksanaan Manajemen Perencanaan</div>
<div class="t" style="left:353.50px;top:1577.43px;font-size:29.2px;line-height:29.2px">dan Data</div>
<div class="t" style="left:1027.34px;top:1536.53px;font-size:25px;line-height:25px;transform:scaleY(1.04);transform-origin:0 21.17px">64.490</div>
<div class="t" style="left:1221.63px;top:1536.53px;font-size:25px;line-height:25px;transform:scaleY(1.04);transform-origin:0 21.17px">143.000</div>
<div class="t" style="left:1425.93px;top:1536.53px;font-size:25px;line-height:25px;transform:scaleY(1.04);transform-origin:0 21.17px">250.950</div>
<div class="t" style="left:1630.33px;top:1536.53px;font-size:25px;line-height:25px;transform:scaleY(1.04);transform-origin:0 21.17px">384.136</div>
<div class="t" style="left:1838.33px;top:1536.53px;font-size:25px;line-height:25px;transform:scaleY(1.04);transform-origin:0 21.17px">403.764</div>
<div class="t" style="left:2046.93px;top:1536.53px;font-size:25px;line-height:25px;transform:scaleY(1.04);transform-origin:0 21.17px">448.626</div>
<div class="t" style="left:2255.13px;top:1536.53px;font-size:25px;line-height:25px;transform:scaleY(1.04);transform-origin:0 21.17px">778.787</div>
<div class="t" style="left:2463.43px;top:1536.53px;font-size:25px;line-height:25px;transform:scaleY(1.04);transform-origin:0 21.17px">757.758</div>
<div class="t" style="left:2671.73px;top:1536.53px;font-size:25px;line-height:25px;transform:scaleY(1.04);transform-origin:0 21.17px">821.547</div>
<div class="t" style="left:2880.13px;top:1536.53px;font-size:25px;line-height:25px;transform:scaleY(1.04);transform-origin:0 21.17px">838.370</div>
<div class="t" style="left:3088.93px;top:1536.53px;font-size:25px;line-height:25px;transform:scaleY(1.04);transform-origin:0 21.17px">938.610</div>
<div class="t" style="left:3280.38px;top:1536.53px;font-size:25px;line-height:25px;transform:scaleY(1.04);transform-origin:0 21.17px">1.179.746</div>
<div class="t" style="left:3505.58px;top:1536.53px;font-size:25px;line-height:25px;transform:scaleY(1.04);transform-origin:0 21.17px">7.009.784</div>
<div class="t" style="left:353.50px;top:1628.08px;font-size:29.2px;line-height:29.2px;transform:scaleY(1.04);transform-origin:0 24.72px">52 BELANJA BARANG DAN BARANG</div>
<div class="t" style="left:1027.34px;top:1623.33px;font-size:25px;line-height:25px;transform:scaleY(1.04);transform-origin:0 21.17px">64.490</div>
<div class="t" style="left:1221.63px;top:1623.33px;font-size:25px;line-height:25px;transform:scaleY(1.04);transform-origin:0 21.17px">143.000</div>
<div class="t" style="left:1425.93px;top:1623.33px;font-size:25px;line-height:25px;transform:scaleY(1.04);transform-origin:0 21.17px">250.950</div>
<div class="t" style="left:1630.33px;top:1623.33px;font-size:25px;line-height:25px;transform:scaleY(1.04);transform-origin:0 21.17px">384.136</div>
<div class="t" style="left:1838.33px;top:1623.33px;font-size:25px;line-height:25px;transform:scaleY(1.04);transform-origin:0 21.17px">403.764</div>
<div class="t" style="left:2046.93px;top:1623.33px;font-size:25px;line-height:25px;transform:scaleY(1.04);transform-origin:0 21.17px">448.626</div>
<div class="t" style="left:2255.13px;top:1623.33px;font-size:25px;line-height:25px;transform:scaleY(1.04);transform-origin:0 21.17px">778.787</div>
<div class="t" style="left:2463.43px;top:1623.33px;font-size:25px;line-height:25px;transform:scaleY(1.04);transform-origin:0 21.17px">757.758</div>
<div class="t" style="left:2671.73px;top:1623.33px;font-size:25px;line-height:25px;transform:scaleY(1.04);transform-origin:0 21.17px">821.547</div>
<div class="t" style="left:2880.13px;top:1623.33px;font-size:25px;line-height:25px;transform:scaleY(1.04);transform-origin:0 21.17px">838.370</div>
<div class="t" style="left:3088.93px;top:1623.33px;font-size:25px;line-height:25px;transform:scaleY(1.04);transform-origin:0 21.17px">938.610</div>
<div class="t" style="left:3280.38px;top:1623.33px;font-size:25px;line-height:25px;transform:scaleY(1.04);transform-origin:0 21.17px">1.179.746</div>
<div class="t" style="left:3505.58px;top:1623.33px;font-size:25px;line-height:25px;transform:scaleY(1.04);transform-origin:0 21.17px">7.009.784</div>
<div class="t" style="left:137.30px;top:1685.48px;font-size:29.2px;line-height:29.2px;transform:scaleY(1.04);transform-origin:0 24.72px">076.01.01.3360</div>
<div class="t" style="left:353.50px;top:1686.68px;font-size:29.2px;line-height:29.2px">Penyelenggaraan Operasional dan</div>
<div class="t" style="left:353.50px;top:1723.43px;font-size:29.2px;line-height:29.2px">Pemeliharaan Perkantoran (KPU)</div>
<div class="t" style="left:1041.24px;top:1682.33px;font-size:25px;line-height:25px;transform:scaleY(1.04);transform-origin:0 21.17px">5.578</div>
<div class="t" style="left:1235.54px;top:1682.33px;font-size:25px;line-height:25px;transform:scaleY(1.04);transform-origin:0 21.17px">12.368</div>
<div class="t" style="left:1439.84px;top:1682.33px;font-size:25px;line-height:25px;transform:scaleY(1.04);transform-origin:0 21.17px">21.704</div>
<div class="t" style="left:1644.24px;top:1682.33px;font-size:25px;line-height:25px;transform:scaleY(1.04);transform-origin:0 21.17px">33.223</div>
<div class="t" style="left:1852.24px;top:1682.33px;font-size:25px;line-height:25px;transform:scaleY(1.04);transform-origin:0 21.17px">34.921</div>
<div class="t" style="left:2060.84px;top:1682.33px;font-size:25px;line-height:25px;transform:scaleY(1.04);transform-origin:0 21.17px">38.801</div>
<div class="t" style="left:2269.04px;top:1682.33px;font-size:25px;line-height:25px;transform:scaleY(1.04);transform-origin:0 21.17px">67.355</div>
<div class="t" style="left:2477.34px;top:1682.33px;font-size:25px;line-height:25px;transform:scaleY(1.04);transform-origin:0 21.17px">65.537</div>
<div class="t" style="left:2685.64px;top:1682.33px;font-size:25px;line-height:25px;transform:scaleY(1.04);transform-origin:0 21.17px">71.054</div>
<div class="t" style="left:2894.04px;top:1682.33px;font-size:25px;line-height:25px;transform:scaleY(1.04);transform-origin:0 21.17px">72.509</div>
<div class="t" style="left:3102.84px;top:1682.33px;font-size:25px;line-height:25px;transform:scaleY(1.04);transform-origin:0 21.17px">81.178</div>
<div class="t" style="left:3301.23px;top:1682.33px;font-size:25px;line-height:25px;transform:scaleY(1.04);transform-origin:0 21.17px">102.031</div>
<div class="t" style="left:3526.43px;top:1682.33px;font-size:25px;line-height:25px;transform:scaleY(1.04);transform-origin:0 21.17px">606.259</div>
<div class="t" style="left:353.50px;top:1773.58px;font-size:29.2px;line-height:29.2px;transform:scaleY(1.04);transform-origin:0 24.72px">52 BELANJA BARANG DAN BARANG</div>
<div class="t" style="left:1041.24px;top:1769.13px;font-size:25px;line-height:25px;transform:scaleY(1.04);transform-origin:0 21.17px">5.578</div>
<div class="t" style="left:1235.54px;top:1769.13px;font-size:25px;line-height:25px;transform:scaleY(1.04);transform-origin:0 21.17px">12.368</div>
<div class="t" style="left:1439.84px;top:1769.13px;font-size:25px;line-height:25px;transform:scaleY(1.04);transform-origin:0 21.17px">21.704</div>
<div class="t" style="left:1644.24px;top:1769.13px;font-size:25px;line-height:25px;transform:scaleY(1.04);transform-origin:0 21.17px">33.223</div>
<div class="t" style="left:1852.24px;top:1769.13px;font-size:25px;line-height:25px;transform:scaleY(1.04);transform-origin:0 21.17px">34.921</div>
<div class="t" style="left:2060.84px;top:1769.13px;font-size:25px;line-height:25px;transform:scaleY(1.04);transform-origin:0 21.17px">38.801</div>
<div class="t" style="left:2269.04px;top:1769.13px;font-size:25px;line-height:25px;transform:scaleY(1.04);transform-origin:0 21.17px">67.355</div>
<div class="t" style="left:2477.34px;top:1769.13px;font-size:25px;line-height:25px;transform:scaleY(1.04);transform-origin:0 21.17px">65.537</div>
<div class="t" style="left:2685.64px;top:1769.13px;font-size:25px;line-height:25px;transform:scaleY(1.04);transform-origin:0 21.17px">71.054</div>
<div class="t" style="left:2894.04px;top:1769.13px;font-size:25px;line-height:25px;transform:scaleY(1.04);transform-origin:0 21.17px">72.509</div>
<div class="t" style="left:3102.84px;top:1769.13px;font-size:25px;line-height:25px;transform:scaleY(1.04);transform-origin:0 21.17px">81.178</div>
<div class="t" style="left:3301.23px;top:1769.13px;font-size:25px;line-height:25px;transform:scaleY(1.04);transform-origin:0 21.17px">102.031</div>
<div class="t" style="left:3526.43px;top:1769.13px;font-size:25px;line-height:25px;transform:scaleY(1.04);transform-origin:0 21.17px">606.259</div>
<div class="t" style="left:137.30px;top:1831.58px;font-size:29.2px;line-height:29.2px;transform:scaleY(1.04);transform-origin:0 24.72px">076.01.01.3361</div>
<div class="t" style="left:353.50px;top:1832.98px;font-size:29.2px;line-height:29.2px">Pemeriksaan di Lingkungan Setjen KPU,</div>
<div class="t" style="left:353.50px;top:1869.73px;font-size:29.2px;line-height:29.2px">Sekretariat KPU Provinsi, dan Sekretariat</div>
<div class="t" style="left:353.50px;top:1906.48px;font-size:29.2px;line-height:29.2px">KPU Kabupaten/Kota</div>
<div class="t" style="left:1062.09px;top:1828.33px;font-size:25px;line-height:25px;transform:scaleY(1.04);transform-origin:0 21.17px">319</div>
<div class="t" style="left:1270.29px;top:1828.33px;font-size:25px;line-height:25px;transform:scaleY(1.04);transform-origin:0 21.17px">707</div>
<div class="t" style="left:1453.74px;top:1828.33px;font-size:25px;line-height:25px;transform:scaleY(1.04);transform-origin:0 21.17px">1.241</div>
<div class="t" style="left:1658.14px;top:1828.33px;font-size:25px;line-height:25px;transform:scaleY(1.04);transform-origin:0 21.17px">1.899</div>
<div class="t" style="left:1866.14px;top:1828.33px;font-size:25px;line-height:25px;transform:scaleY(1.04);transform-origin:0 21.17px">1.997</div>
<div class="t" style="left:2074.74px;top:1828.33px;font-size:25px;line-height:25px;transform:scaleY(1.04);transform-origin:0 21.17px">2.218</div>
<div class="t" style="left:2282.94px;top:1828.33px;font-size:25px;line-height:25px;transform:scaleY(1.04);transform-origin:0 21.17px">3.851</div>
<div class="t" style="left:2491.24px;top:1828.33px;font-size:25px;line-height:25px;transform:scaleY(1.04);transform-origin:0 21.17px">3.747</div>
<div class="t" style="left:2699.54px;top:1828.33px;font-size:25px;line-height:25px;transform:scaleY(1.04);transform-origin:0 21.17px">4.062</div>
<div class="t" style="left:2907.94px;top:1828.33px;font-size:25px;line-height:25px;transform:scaleY(1.04);transform-origin:0 21.17px">4.146</div>
<div class="t" style="left:3116.74px;top:1828.33px;font-size:25px;line-height:25px;transform:scaleY(1.04);transform-origin:0 21.17px">4.641</div>
<div class="t" style="left:3329.04px;top:1828.33px;font-size:25px;line-height:25px;transform:scaleY(1.04);transform-origin:0 21.17px">5.834</div>
<div class="t" style="left:3540.34px;top:1828.33px;font-size:25px;line-height:25px;transform:scaleY(1.04);transform-origin:0 21.17px">34.662</div>
<div class="t" style="left:353.50px;top:1956.98px;font-size:29.2px;line-height:29.2px;transform:scaleY(1.04);transform-origin:0 24.72px">52 BELANJA BARANG DAN BARANG</div>
<div class="t" style="left:1062.09px;top:1953.23px;font-size:25px;line-height:25px;transform:scaleY(1.04);transform-origin:0 21.17px">319</div>
<div class="t" style="left:1270.29px;top:1953.23px;font-size:25px;line-height:25px;transform:scaleY(1.04);transform-origin:0 21.17px">707</div>
<div class="t" style="left:1453.74px;top:1953.23px;font-size:25px;line-height:25px;transform:scaleY(1.04);transform-origin:0 21.17px">1.241</div>
<div class="t" style="left:1658.14px;top:1953.23px;font-size:25px;line-height:25px;transform:scaleY(1.04);transform-origin:0 21.17px">1.899</div>
<div class="t" style="left:1866.14px;top:1953.23px;font-size:25px;line-height:25px;transform:scaleY(1.04);transform-origin:0 21.17px">1.997</div>
<div class="t" style="left:2074.74px;top:1953.23px;font-size:25px;line-height:25px;transform:scaleY(1.04);transform-origin:0 21.17px">2.218</div>
<div class="t" style="left:2282.94px;top:1953.23px;font-size:25px;line-height:25px;transform:scaleY(1.04);transform-origin:0 21.17px">3.851</div>
<div class="t" style="left:2491.24px;top:1953.23px;font-size:25px;line-height:25px;transform:scaleY(1.04);transform-origin:0 21.17px">3.747</div>
<div class="t" style="left:2699.54px;top:1953.23px;font-size:25px;line-height:25px;transform:scaleY(1.04);transform-origin:0 21.17px">4.062</div>
<div class="t" style="left:2907.94px;top:1953.23px;font-size:25px;line-height:25px;transform:scaleY(1.04);transform-origin:0 21.17px">4.146</div>
<div class="t" style="left:3116.74px;top:1953.23px;font-size:25px;line-height:25px;transform:scaleY(1.04);transform-origin:0 21.17px">4.641</div>
<div class="t" style="left:3329.04px;top:1953.23px;font-size:25px;line-height:25px;transform:scaleY(1.04);transform-origin:0 21.17px">5.834</div>
<div class="t" style="left:3540.34px;top:1953.23px;font-size:25px;line-height:25px;transform:scaleY(1.04);transform-origin:0 21.17px">34.662</div>
<div class="t" style="left:137.30px;top:2014.48px;font-size:29.2px;line-height:29.2px;transform:scaleY(1.04);transform-origin:0 24.72px">076.01.06.3363</div>
<div class="t" style="left:353.50px;top:2015.98px;font-size:29.2px;line-height:29.2px">Penyiapan Penyusunan Rancangan</div>
<div class="t" style="left:353.50px;top:2052.73px;font-size:29.2px;line-height:29.2px">Peraturan Kpu, Advokasi, Penyelesaian</div>
<div class="t" style="left:1041.24px;top:2011.03px;font-size:25px;line-height:25px;transform:scaleY(1.04);transform-origin:0 21.17px">1.374</div>
<div class="t" style="left:1249.44px;top:2011.03px;font-size:25px;line-height:25px;transform:scaleY(1.04);transform-origin:0 21.17px">3.047</div>
<div class="t" style="left:1453.74px;top:2011.03px;font-size:25px;line-height:25px;transform:scaleY(1.04);transform-origin:0 21.17px">5.347</div>
<div class="t" style="left:1658.14px;top:2011.03px;font-size:25px;line-height:25px;transform:scaleY(1.04);transform-origin:0 21.17px">8.184</div>
<div class="t" style="left:1866.14px;top:2011.03px;font-size:25px;line-height:25px;transform:scaleY(1.04);transform-origin:0 21.17px">8.603</div>
<div class="t" style="left:2074.74px;top:2011.03px;font-size:25px;line-height:25px;transform:scaleY(1.04);transform-origin:0 21.17px">9.558</div>
<div class="t" style="left:2269.04px;top:2011.03px;font-size:25px;line-height:25px;transform:scaleY(1.04);transform-origin:0 21.17px">16.593</div>
<div class="t" style="left:2477.34px;top:2011.03px;font-size:25px;line-height:25px;transform:scaleY(1.04);transform-origin:0 21.17px">16.145</div>
<div class="t" style="left:2685.64px;top:2011.03px;font-size:25px;line-height:25px;transform:scaleY(1.04);transform-origin:0 21.17px">17.504</div>
<div class="t" style="left:2894.04px;top:2011.03px;font-size:25px;line-height:25px;transform:scaleY(1.04);transform-origin:0 21.17px">17.862</div>
<div class="t" style="left:3102.84px;top:2011.03px;font-size:25px;line-height:25px;transform:scaleY(1.04);transform-origin:0 21.17px">19.998</div>
<div class="t" style="left:3315.14px;top:2011.03px;font-size:25px;line-height:25px;transform:scaleY(1.04);transform-origin:0 21.17px">25.136</div>
<div class="t" style="left:3526.43px;top:2011.03px;font-size:25px;line-height:25px;transform:scaleY(1.04);transform-origin:0 21.17px">149.351</div>
</div></body></html>
